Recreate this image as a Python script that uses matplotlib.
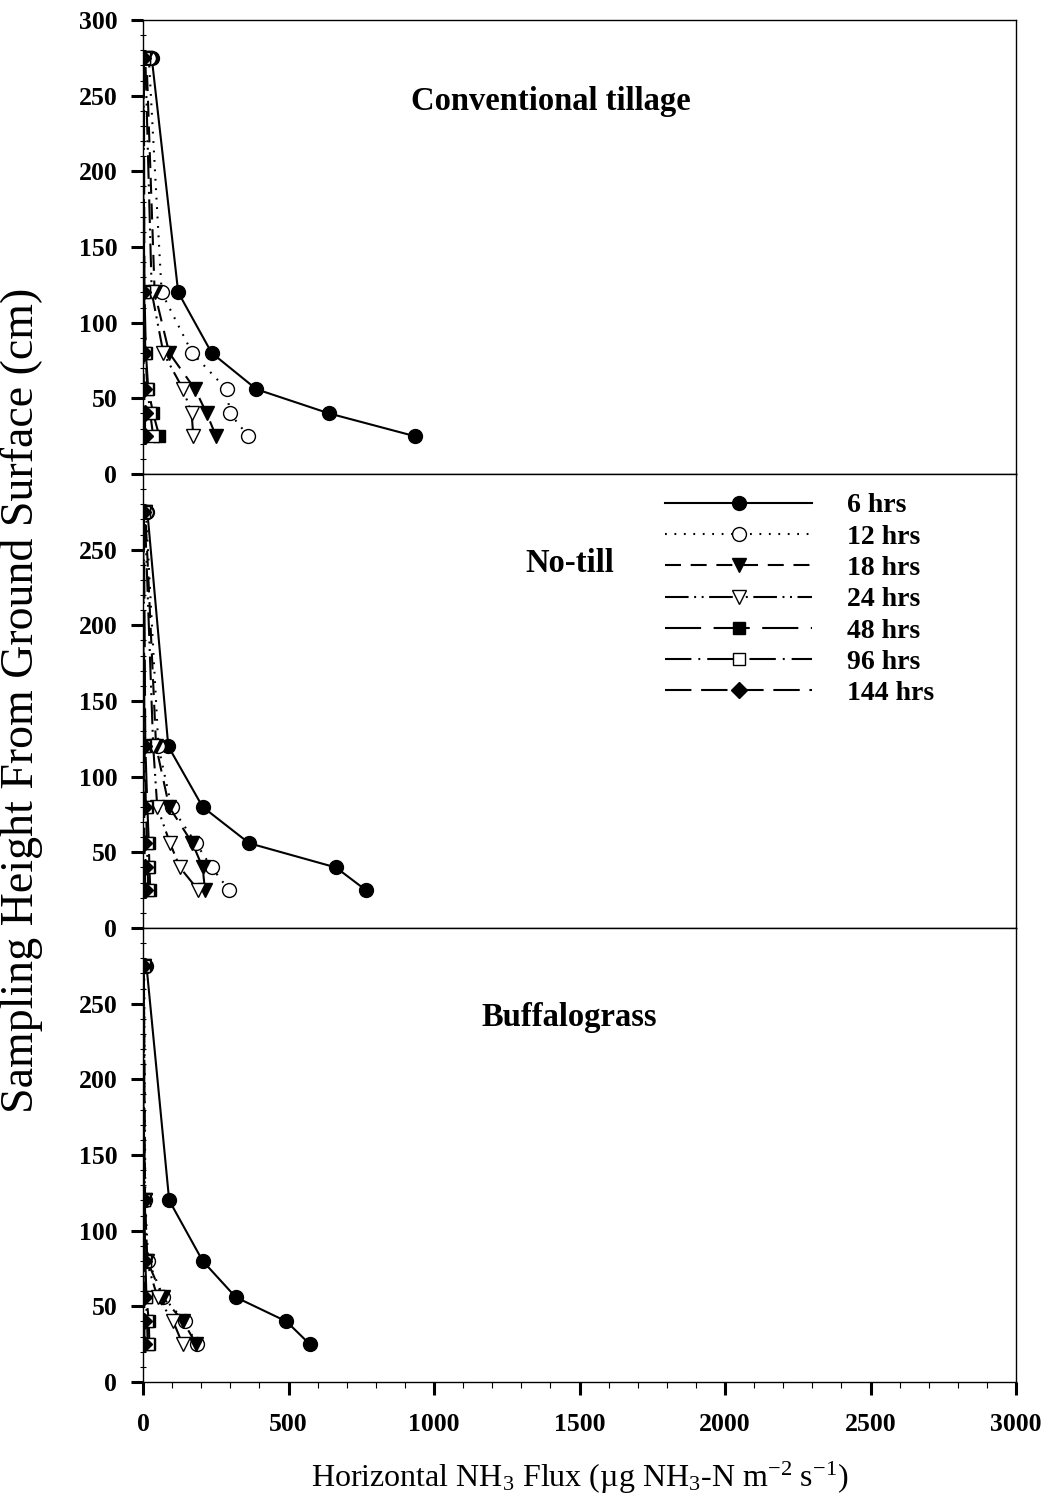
import matplotlib
matplotlib.use("Agg")
import matplotlib.pyplot as plt
from matplotlib.ticker import MultipleLocator

plt.rcParams['font.family'] = ['Liberation Serif', 'DejaVu Serif']
plt.rcParams['mathtext.fontset'] = 'custom'
plt.rcParams['mathtext.rm'] = 'Liberation Serif'
plt.rcParams['mathtext.it'] = 'Liberation Serif:italic'
plt.rcParams['mathtext.bf'] = 'Liberation Serif:bold'
plt.rcParams['lines.scale_dashes'] = False

# ---------------- data ----------------
heights = [25, 40, 56, 80, 120, 275]
series_labels = ['6 hrs', '12 hrs', '18 hrs', '24 hrs', '48 hrs', '96 hrs', '144 hrs']
panel_titles = ['Conventional tillage', 'No-till', 'Buffalograss']

ct_6 = [934, 640, 390, 236, 121, 30]
ct_12 = [362, 299, 287, 169, 64, 20]
ct_18 = [251, 219, 179, 90, 40, 12]
ct_24 = [173, 167, 138, 70, 30, 8]
ct_48 = [56, 35, 18, 10, 5, 3]
ct_96 = [35, 25, 15, 8, 4, 2]
ct_144 = [7, 7, 3, 2, 1, 1]

nt_6 = [766, 663, 365, 205, 87, 15]
nt_12 = [296, 236, 182, 98, 53, 10]
nt_18 = [213, 205, 170, 90, 45, 8]
nt_24 = [190, 127, 93, 49, 35, 6]
nt_48 = [25, 22, 20, 15, 8, 3]
nt_96 = [18, 16, 14, 10, 5, 2]
nt_144 = [8, 6, 5, 4, 2, 1]

bg_6 = [573, 493, 319, 205, 90, 12]
bg_12 = [184, 144, 70, 18, 8, 4]
bg_18 = [183, 138, 68, 15, 7, 3]
bg_24 = [136, 104, 50, 12, 6, 3]
bg_48 = [22, 20, 12, 8, 4, 2]
bg_96 = [16, 14, 10, 6, 3, 2]
bg_144 = [5, 5, 4, 3, 2, 1]

panels = [
    [ct_6, ct_12, ct_18, ct_24, ct_48, ct_96, ct_144],
    [nt_6, nt_12, nt_18, nt_24, nt_48, nt_96, nt_144],
    [bg_6, bg_12, bg_18, bg_24, bg_48, bg_96, bg_144],
]

# ---------------- styles ----------------
styles = [
    dict(linestyle='-', marker='o', mfc='black', ms=10),
    dict(linestyle=(0, (1.3, 5.5)), marker='o', mfc='white', ms=10),
    dict(linestyle=(0, (11.5, 7)), marker='v', mfc='black', ms=10),
    dict(linestyle=(0, (17, 4, 1.4, 4, 1.4, 4)), marker='v', mfc='white', ms=10),
    dict(linestyle=(0, (26, 9)), marker='s', mfc='black', ms=8),
    dict(linestyle=(0, (19, 5, 1.4, 5)), marker='s', mfc='white', ms=8),
    dict(linestyle=(0, (19, 7)), marker='D', mfc='black', ms=8),
]

W, H = 1048, 1502
fig = plt.figure(figsize=(W / 100, H / 100), dpi=100)

left = 143 / W
width = (1016 - 143) / W
ph = (1382 - 20) / 3
tops = [20, 20 + ph, 20 + 2 * ph]
title_pos = [(1400, 246), (1466, 241), (1466, 241)]

axes = []
for i in range(3):
    bottom = 1 - (tops[i] + ph) / H
    ax = fig.add_axes([left, bottom, width, ph / H])
    axes.append(ax)
    for j, (vals, st) in enumerate(zip(panels[i], styles)):
        ax.plot(vals, heights, color='black', lw=1.5, mec='black', mew=1.0,
                label=series_labels[j], **st)
    ax.set_xlim(0, 3000)
    ax.set_ylim(0, 300)
    for sp in ax.spines.values():
        sp.set_linewidth(1.0)
    ax.yaxis.set_major_locator(MultipleLocator(50))
    ax.yaxis.set_minor_locator(MultipleLocator(10))
    ax.xaxis.set_major_locator(MultipleLocator(500))
    ax.xaxis.set_minor_locator(MultipleLocator(100))
    ax.tick_params(axis='y', which='major', direction='out', length=8.5, width=2.2,
                   labelsize=18.5, pad=10, right=False)
    ax.tick_params(axis='y', which='minor', direction='inout', length=4, width=0.8, right=False)
    if i < 2:
        ax.tick_params(axis='x', which='both', bottom=False, labelbottom=False, top=False)
    else:
        ax.tick_params(axis='x', which='major', direction='out', length=9, width=2.2,
                       labelsize=18.5, pad=13, top=False)
        ax.tick_params(axis='x', which='minor', direction='out', length=4, width=0.8, top=False)
    if i > 0:
        ax.set_yticks([0, 50, 100, 150, 200, 250])
        ax.yaxis.set_minor_locator(MultipleLocator(10))
    for lab in ax.get_xticklabels() + ax.get_yticklabels():
        lab.set_fontweight('bold')
    tx, ty = title_pos[i]
    ax.text(tx, ty, panel_titles[i], ha='center', va='center', fontsize=23.5, fontweight='bold')

axes[1].legend(loc='upper left', bbox_to_anchor=(665 / W, 1 - 493 / H),
               bbox_transform=fig.transFigure, frameon=False,
               prop={'weight': 'bold', 'size': 20}, handlelength=5.3, handletextpad=1.25,
               labelspacing=0.21, borderpad=0, borderaxespad=0, numpoints=1)

fig.text(22 / W, 1 - 700 / H, 'Sampling Height From Ground Surface (cm)', rotation=90,
         ha='center', va='center', fontsize=33)
fig.text(580 / W, 1 - 1478 / H,
         'Horizontal NH$_{3}$ Flux (µg NH$_{3}$-N m$^{-2}$ s$^{-1}$)',
         ha='center', va='center', fontsize=23)

fig.savefig('out.png', dpi=100)
